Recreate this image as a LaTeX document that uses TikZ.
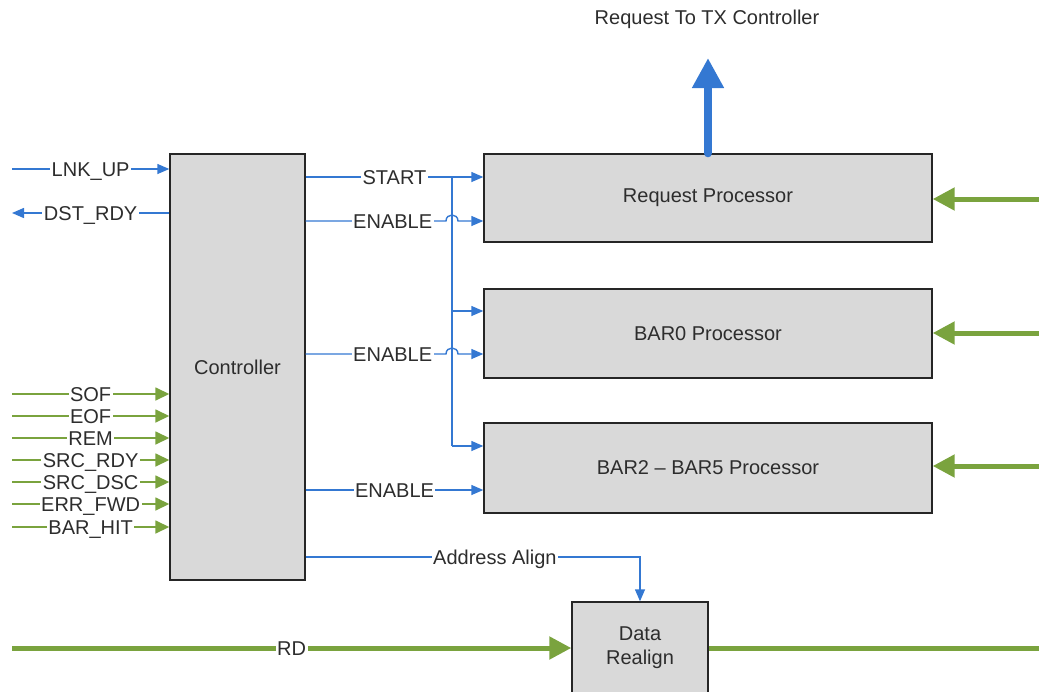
\documentclass[tikz,border=0pt]{standalone}
\usepackage{fontspec}
\setmainfont{Liberation Sans}
\usetikzlibrary{arrows.meta}
\definecolor{lnblue}{RGB}{52,120,210}
\definecolor{lngreen}{RGB}{122,163,62}
\definecolor{boxfill}{RGB}{217,217,217}
\definecolor{boxline}{RGB}{38,38,38}
\definecolor{txt}{RGB}{45,45,45}
\begin{document}
\begin{tikzpicture}[x=1pt,y=-1pt,
  font=\fontsize{20}{24}\selectfont, text=txt,
  blk/.style={draw=boxline, fill=boxfill, line width=1.4pt, inner sep=0pt},
  lab/.style={fill=white, inner sep=1.5pt, text height=14.3pt, text depth=0pt},
  bwire/.style={draw=lnblue, line width=1.4pt},
  gwire/.style={draw=lngreen, line width=1.6pt},
  btip/.style={-{Triangle[length=12pt,width=10pt]}},
  btipback/.style={{Triangle[length=12pt,width=10pt]}-},
  gtip/.style={-{Triangle[length=14pt,width=13pt]}},
  gthick/.style={draw=lngreen, line width=5pt},
  gbig/.style={-{Triangle[length=22pt,width=22pt]}},
  bthick/.style={draw=lnblue, line width=8pt, line cap=round, -{Triangle[length=30pt,width=30pt]}}
]
\clip (0,0) rectangle (1039,691);
% blocks
\node[blk, minimum width=135pt, minimum height=426pt] (ctrl) at (237.5,367) {Controller};
\node[blk, minimum width=448pt, minimum height=88pt] (req) at (708,198) {Request Processor};
\node[blk, minimum width=448pt, minimum height=89pt] (bar0) at (708,333.5) {BAR0 Processor};
\node[blk, minimum width=448pt, minimum height=90pt] (bar25) at (708,468) {BAR2 – BAR5 Processor};
\node[blk, minimum width=136pt, minimum height=92pt, align=center] (dr) at (640,648) {Data\\Realign};
\node (tx) at (707,19) {Request To TX Controller};
% free ends and junctions
\coordinate (lnk) at (12,169);
\coordinate (dst) at (12,213);
\coordinate (st) at (452,177);
\coordinate (jb0) at (452,311);
\coordinate (jb2) at (452,446);
\coordinate (e1) at (446,221);
\coordinate (e2) at (446,354);
\coordinate (e3) at (0,490);
\coordinate (aa) at (0,557);
\coordinate (rdin) at (12,648);
\coordinate (rdout) at (1045,648);
\coordinate (rq) at (1045,199);
\coordinate (rb0) at (1045,333);
\coordinate (rb2) at (1045,466);
\coordinate (txa) at (708,58);
% left inputs
\draw[bwire,btip] (lnk) -- node[lab]{LNK\_UP} (ctrl.west |- lnk);
\draw[bwire,btipback] (dst) -- node[lab]{DST\_RDY} (ctrl.west |- dst);
\foreach \yy/\tt in {394/SOF,416/EOF,438/REM,460/SRC\_RDY,482/SRC\_DSC,504/ERR\_FWD,527/BAR\_HIT}{
  \coordinate (in\yy) at (12,\yy);
  \draw[gwire,gtip] (in\yy) -- node[lab]{\tt} (ctrl.west |- in\yy);
}
% controller outputs
\draw[bwire,btip] (ctrl.east |- st) -- node[lab]{START} (req.west |- st);
\draw[bwire] (st) -- (jb2);
\draw[bwire,btip] (jb0) -- (bar0.west |- jb0);
\draw[bwire,btip] (jb2) -- (bar25.west |- jb2);
\draw[bwire,btip] (ctrl.east |- e1) -- node[lab,pos=0.62]{ENABLE} (e1)
   .. controls (446,213) and (458,213) .. (458,221) -- (req.west |- e1);
\draw[bwire,btip] (ctrl.east |- e2) -- node[lab,pos=0.62]{ENABLE} (e2)
   .. controls (446,346) and (458,346) .. (458,354) -- (bar0.west |- e2);
\draw[bwire,btip] (ctrl.east |- e3) -- node[lab]{ENABLE} (bar25.west |- e3);
\draw[bwire,btip] (ctrl.east |- aa) -| node[lab,pos=0.283]{Address Align} (dr.north);
% data path
\draw[gthick,gbig] (rdin) -- node[lab]{RD} (dr.west |- rdin);
\draw[gthick] (dr.east |- rdout) -- (rdout);
\draw[gthick,gbig] (rq) -- (req.east |- rq);
\draw[gthick,gbig] (rb0) -- (bar0.east |- rb0);
\draw[gthick,gbig] (rb2) -- (bar25.east |- rb2);
\draw[bthick] (req.north) -- (txa);
\end{tikzpicture}
\end{document}
